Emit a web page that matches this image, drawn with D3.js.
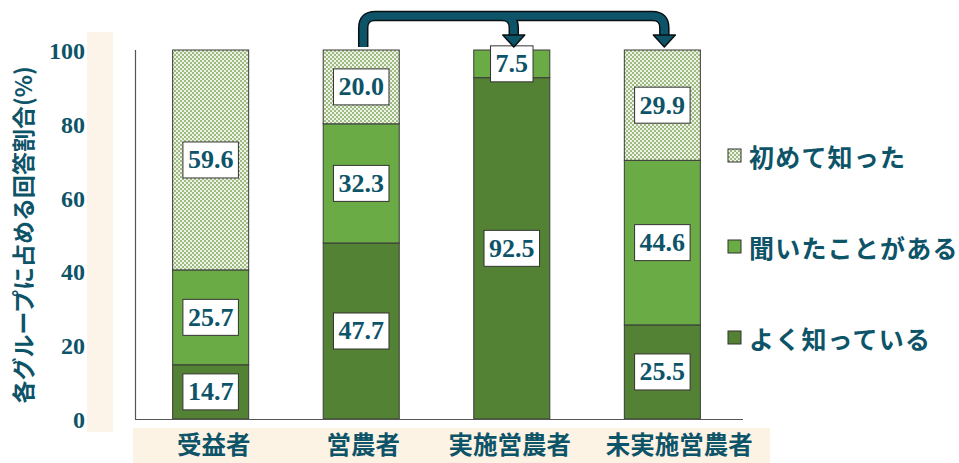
<!DOCTYPE html>
<html>
<head>
<meta charset="utf-8">
<script src="https://cdn.jsdelivr.net/npm/d3@7"></script>
<style>
  html, body { margin: 0; padding: 0; background: #fff; }
  svg { display: block; }
</style>
</head>
<body>
<svg id="chart" width="959" height="463"></svg>
<script>
// Groups surveyed
const categories = ["受益者", "営農者", "実施営農者", "未実施営農者"];
// Share of each answer within a group (%)
const wellKnown = [14.7, 47.7, 92.5, 25.5];   // よく知っている
const heardOf   = [25.7, 32.3, 7.5, 44.6];    // 聞いたことがある
const firstTime = [59.6, 20.0, 0, 29.9];      // 初めて知った
const seriesNames = ["よく知っている", "聞いたことがある", "初めて知った"];
const yTicks = [0, 20, 40, 60, 80, 100];
const yTitle = "各グループに占める回答割合(%)";

const teal = "#0e5468";
const numFont = "'Liberation Serif', 'Times New Roman', serif";
const jpFont = "'Noto Sans CJK JP', 'Noto Sans', sans-serif";

const svg = d3.select("#chart");
const defs = svg.append("defs");

// checkered fill for 初めて知った
const pat = defs.append("pattern")
  .attr("id", "checker").attr("patternUnits", "userSpaceOnUse")
  .attr("width", 4).attr("height", 4);
pat.append("rect").attr("width", 4).attr("height", 4).attr("fill", "#eef3e6");
pat.append("rect").attr("width", 2).attr("height", 2).attr("fill", "#9dbb82");
pat.append("rect").attr("x", 2).attr("y", 2).attr("width", 2).attr("height", 2).attr("fill", "#9dbb82");

const fills = ["#548235", "#6aab45", "url(#checker)"];

const x = d3.scaleBand().domain(categories).range([135, 738])
  .paddingInner(0.495).paddingOuter(0.25);
const y = d3.scaleLinear().domain([0, 100]).range([419, 50]);

// beige bands behind axis labels
svg.append("rect").attr("x", 87).attr("y", 32).attr("width", 26).attr("height", 400).attr("fill", "#fcf4e8");
svg.append("rect").attr("x", 133).attr("y", 428).attr("width", 637).attr("height", 35).attr("fill", "#fcf3e5");

// stacked data
const rows = categories.map((c, i) => ({ cat: c, v: [wellKnown[i], heardOf[i], firstTime[i]] }));
const segs = [];
rows.forEach(r => {
  let acc = 0;
  r.v.forEach((v, k) => {
    segs.push({ cat: r.cat, k, v, y0: acc, y1: acc + v });
    acc += v;
  });
});

svg.append("g").selectAll("rect").data(segs.filter(d => d.v > 0)).join("rect")
  .attr("x", d => x(d.cat))
  .attr("width", x.bandwidth())
  .attr("y", d => y(d.y1))
  .attr("height", d => y(d.y0) - y(d.y1))
  .attr("fill", d => fills[d.k])
  .attr("stroke", "#3a3a3a").attr("stroke-width", 1);

// axes lines
svg.append("line").attr("x1", 135.5).attr("x2", 135.5).attr("y1", y(100)).attr("y2", y(0))
  .attr("stroke", "#555").attr("stroke-width", 1.2);
svg.append("line").attr("x1", 135).attr("x2", 743).attr("y1", y(0) + 0.5).attr("y2", y(0) + 0.5)
  .attr("stroke", "#555").attr("stroke-width", 1.2);

// y tick labels
const yAxis = svg.append("g").attr("transform", "translate(135,0)")
  .call(d3.axisLeft(y).tickValues(yTicks).tickSize(0).tickPadding(50));
yAxis.select(".domain").remove();
yAxis.selectAll("text")
  .attr("fill", teal).attr("font-family", numFont).attr("font-weight", "bold")
  .attr("font-size", 24).attr("dy", "0.35em");

// y title
svg.append("text")
  .attr("transform", "translate(22,235) rotate(-90)")
  .attr("text-anchor", "middle").attr("dominant-baseline", "central")
  .attr("fill", teal).attr("font-family", jpFont).attr("font-weight", "bold")
  .attr("font-size", 23).text(yTitle);

// x labels (text boxes sit slightly right of the bar centres)
const labelShift = [3, 2, -2, 17];
svg.append("g").selectAll("text").data(categories).join("text")
  .attr("x", (d, i) => x(d) + x.bandwidth() / 2 + labelShift[i])
  .attr("y", 454)
  .attr("text-anchor", "middle")
  .attr("fill", teal).attr("font-family", jpFont).attr("font-weight", "bold")
  .attr("font-size", 24.5).text(d => d);

// value labels in white boxes
const lab = svg.append("g").selectAll("g").data(segs.filter(d => d.v > 0)).join("g")
  .attr("transform", d => `translate(${x(d.cat) + x.bandwidth() / 2},${(y(d.y0) + y(d.y1)) / 2})`);
lab.append("rect").attr("class", "box");
lab.append("text")
  .attr("text-anchor", "middle").attr("dominant-baseline", "central")
  .attr("fill", teal).attr("font-family", numFont).attr("font-weight", "bold")
  .attr("font-size", 26).text(d => d.v.toFixed(1));
lab.each(function () {
  const g = d3.select(this);
  const w = g.select("text").node().getComputedTextLength() + 10;
  g.select("rect.box").attr("x", -w / 2).attr("y", -18).attr("width", w).attr("height", 36)
    .attr("fill", "#fff").attr("stroke", "#333").attr("stroke-width", 1);
});

// legend
const legend = svg.append("g").selectAll("g").data([2, 1, 0]).join("g")
  .attr("transform", (d, i) => `translate(728,${156 + i * 91})`);
legend.append("rect").attr("x", 0).attr("y", -7).attr("width", 13).attr("height", 13)
  .attr("fill", d => fills[d]).attr("stroke", "#333").attr("stroke-width", 1);
legend.append("text").attr("x", 21).attr("y", 0).attr("dominant-baseline", "central")
  .attr("fill", teal).attr("font-family", jpFont).attr("font-weight", "bold")
  .attr("font-size", 25).attr("letter-spacing", 1.2).text(d => seriesNames[d]);

// flow arrow from 営農者 to 実施営農者 / 未実施営農者
const cx = c => x(c) + x.bandwidth() / 2 + 2;
const ax1 = cx(categories[1]), ax2 = cx(categories[2]), ax3 = cx(categories[3]);
const arrowTop = 16, rad = 12, headBase = 35, tip = 47;
const shaft = `M${ax1},${y(100) - 3} V${arrowTop + rad} Q${ax1},${arrowTop} ${ax1 + rad},${arrowTop} H${ax3 - rad} Q${ax3},${arrowTop} ${ax3},${arrowTop + rad} V${headBase + 1}` +
  ` M${ax2 - rad},${arrowTop} Q${ax2},${arrowTop} ${ax2},${arrowTop + rad} V${headBase + 1}`;
const arrow = svg.append("g");
arrow.append("path").attr("d", shaft).attr("fill", "none").attr("stroke", "#0a0f12").attr("stroke-width", 10.5);
arrow.append("path").attr("d", shaft).attr("fill", "none").attr("stroke", teal).attr("stroke-width", 7.5);
arrow.selectAll("polygon").data([ax2, ax3]).join("polygon")
  .attr("points", d => `${d - 11},${headBase} ${d + 11},${headBase} ${d},${tip}`)
  .attr("fill", teal).attr("stroke", "#0a0f12").attr("stroke-width", 1.5).attr("stroke-linejoin", "round");
</script>
</body>
</html>
